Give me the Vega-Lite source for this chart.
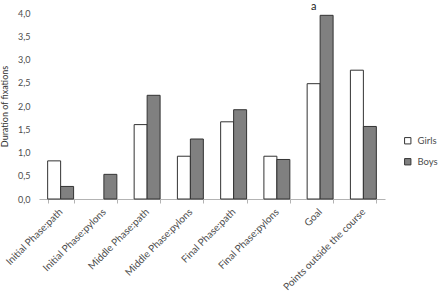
{
  "$schema": "https://vega.github.io/schema/vega-lite/v6.json",
  "width": 346,
  "height": 186,
  "autosize": {"type": "none"},
  "padding": {"left": 39, "top": 13, "right": 55, "bottom": 96},
  "background": "white",
  "config": {
    "view": {"stroke": null},
    "font": "Lato",
    "axis": {"labelFont": "Lato", "titleFont": "Lato", "labelColor": "#4d4d4d", "titleColor": "#333333"},
    "legend": {"labelFont": "Lato"}
  },
  "datasets": {
    "fixations": [
      {"category": "Initial Phase:path", "group": "Girls", "value": 0.82},
      {"category": "Initial Phase:path", "group": "Boys", "value": 0.27},
      {"category": "Initial Phase:pylons", "group": "Girls", "value": 0.0},
      {"category": "Initial Phase:pylons", "group": "Boys", "value": 0.53},
      {"category": "Middle Phase:path", "group": "Girls", "value": 1.6},
      {"category": "Middle Phase:path", "group": "Boys", "value": 2.23},
      {"category": "Middle Phase:pylons", "group": "Girls", "value": 0.92},
      {"category": "Middle Phase:pylons", "group": "Boys", "value": 1.29},
      {"category": "Final Phase:path", "group": "Girls", "value": 1.66},
      {"category": "Final Phase:path", "group": "Boys", "value": 1.92},
      {"category": "Final Phase:pylons", "group": "Girls", "value": 0.92},
      {"category": "Final Phase:pylons", "group": "Boys", "value": 0.85},
      {"category": "Goal", "group": "Girls", "value": 2.48},
      {"category": "Goal", "group": "Boys", "value": 3.95},
      {"category": "Points outside the course", "group": "Girls", "value": 2.77},
      {"category": "Points outside the course", "group": "Boys", "value": 1.56}
    ],
    "notes": [
      {"category": "Goal", "group": "Girls", "note": "a"}
    ]
  },
  "encoding": {
    "x": {
      "field": "category",
      "type": "nominal",
      "sort": null,
      "scale": {
        "domain": ["Initial Phase:path", "Initial Phase:pylons", "Middle Phase:path", "Middle Phase:pylons", "Final Phase:path", "Final Phase:pylons", "Goal", "Points outside the course"],
        "paddingInner": 0.4,
        "paddingOuter": 0.2
      },
      "axis": {
        "title": null,
        "labelAngle": -45,
        "labelAlign": "right",
        "labelBaseline": "middle",
        "labelFontSize": 10,
        "labelPadding": 7,
        "labelOverlap": false,
        "tickBand": "extent",
        "tickSize": 4,
        "tickColor": "#b3b3b3",
        "domainColor": "#b3b3b3",
        "grid": false
      }
    },
    "xOffset": {
      "field": "group",
      "type": "nominal",
      "scale": {"domain": ["Girls", "Boys"], "paddingInner": 0, "paddingOuter": 0}
    }
  },
  "resolve": {"axis": {"y": "shared"}},
  "layer": [
    {
      "data": {"name": "fixations"},
      "mark": {"type": "bar", "stroke": "#333333"},
      "encoding": {
        "y": {
          "field": "value",
          "type": "quantitative",
          "scale": {"domain": [0, 4], "nice": false},
          "axis": {
            "title": "Duration of fixations",
            "titleFontSize": 9,
            "titleFontWeight": "normal",
            "titleX": -30,
            "titleY": 93,
            "values": [0, 0.5, 1, 1.5, 2, 2.5, 3, 3.5, 4],
            "labelExpr": "replace(format(datum.value, '.1f'), '.', ',')",
            "labelFontSize": 9,
            "labelPadding": 9,
            "labelOverlap": false,
            "ticks": false,
            "domain": false,
            "grid": false
          }
        },
        "strokeWidth": {"condition": {"test": "datum.value > 0", "value": 1}, "value": 0},
        "fill": {
          "field": "group",
          "type": "nominal",
          "scale": {"domain": ["Girls", "Boys"], "range": ["#ffffff", "#808080"]},
          "legend": {
            "title": null,
            "orient": "none",
            "legendX": 364,
            "legendY": 123,
            "symbolType": "square",
            "symbolSize": 40,
            "symbolStrokeColor": "#333333",
            "symbolStrokeWidth": 1,
            "labelFontSize": 9.5,
            "labelColor": "#4d4d4d",
            "labelOffset": 5,
            "rowPadding": 10
          }
        }
      }
    },
    {
      "data": {"name": "notes"},
      "mark": {"type": "text", "baseline": "bottom", "dy": -1, "fontSize": 11, "color": "#222222"},
      "encoding": {
        "y": {
          "datum": 4,
          "type": "quantitative",
          "axis": {
            "title": "Duration of fixations",
            "titleFontSize": 9,
            "titleFontWeight": "normal",
            "titleX": -30,
            "titleY": 93,
            "values": [0, 0.5, 1, 1.5, 2, 2.5, 3, 3.5, 4],
            "labelExpr": "replace(format(datum.value, '.1f'), '.', ',')",
            "labelFontSize": 9,
            "labelPadding": 9,
            "labelOverlap": false,
            "ticks": false,
            "domain": false,
            "grid": false
          }
        },
        "text": {"field": "note", "type": "nominal"}
      }
    }
  ]
}
